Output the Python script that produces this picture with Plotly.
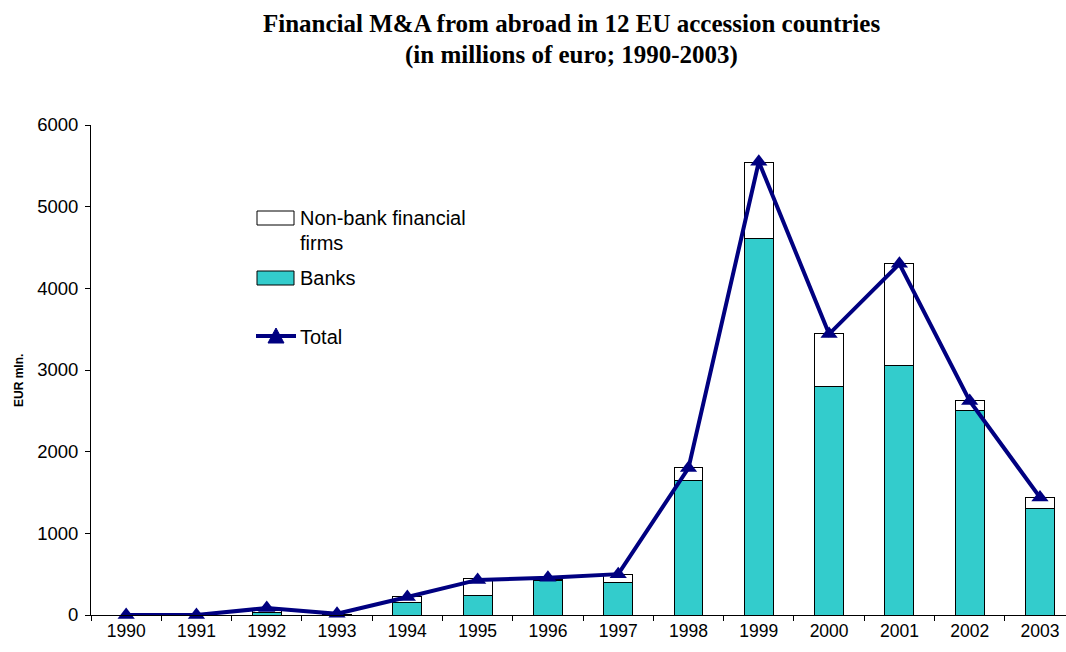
import plotly.graph_objects as go

years = ["1990", "1991", "1992", "1993", "1994", "1995", "1996",
         "1997", "1998", "1999", "2000", "2001", "2002", "2003"]
banks = [0, 0, 30, 5, 155, 237, 420, 400, 1645, 4608, 2804, 3057, 2510, 1310]
non_bank = [0, 0, 20, 5, 70, 204, 20, 98, 159, 939, 637, 1245, 114, 131]
total = [0, 0, 85, 15, 220, 430, 455, 500, 1800, 5550, 3440, 4300, 2620, 1440]

BANK_COLOR = "#33CCCC"
LINE_COLOR = "#000080"

fig = go.Figure()

fig.add_trace(go.Bar(
    x=years, y=banks, name="Banks",
    marker=dict(color=BANK_COLOR, line=dict(color="#000000", width=1)),
))
fig.add_trace(go.Bar(
    x=years, y=non_bank, name="Non-bank financial firms",
    marker=dict(color="#FFFFFF", line=dict(color="#000000", width=1)),
))
fig.add_trace(go.Scatter(
    x=years, y=total, name="Total", mode="lines+markers",
    line=dict(color=LINE_COLOR, width=4),
    marker=dict(symbol="triangle-up", size=15, color=LINE_COLOR),
    cliponaxis=False,
))

# Plot area geometry (pixels) used to place the hand-built legend and labels
LEFT, RIGHT, TOP, BOTTOM = 91, 1066, 125, 615
W, H = float(RIGHT - LEFT), float(BOTTOM - TOP)
def px(x):
    return (x - LEFT) / W
def py(y):
    return (BOTTOM - y) / H

shapes = [
    dict(type="rect", xref="paper", yref="paper",
         x0=px(257), x1=px(294), y0=py(225), y1=py(211),
         fillcolor="#FFFFFF", line=dict(color="#000000", width=1)),
    dict(type="rect", xref="paper", yref="paper",
         x0=px(257), x1=px(294), y0=py(285), y1=py(271),
         fillcolor=BANK_COLOR, line=dict(color="#000000", width=1)),
    dict(type="line", xref="paper", yref="paper",
         x0=px(256), x1=px(296), y0=py(336), y1=py(336),
         line=dict(color=LINE_COLOR, width=4)),
    dict(type="path", xref="paper", yref="paper",
         path=f"M {px(268)},{py(343)} L {px(284)},{py(343)} L {px(276)},{py(328)} Z",
         fillcolor=LINE_COLOR, line=dict(color=LINE_COLOR, width=1)),
]

legend_font = dict(family="Arial, Liberation Sans, sans-serif", size=20, color="#000000")
legend_items = [("Non-bank financial", 218), ("firms", 243), ("Banks", 278), ("Total", 337)]
annotations = [
    dict(text=t, xref="paper", yref="paper", x=px(298), y=py(yc),
         xanchor="left", yanchor="middle", showarrow=False, font=legend_font)
    for t, yc in legend_items
]

title_font = dict(family="Times New Roman, Liberation Serif, serif", size=25, color="#000000")
for line, yc in [("Financial M&A from abroad in 12 EU accession countries", 24),
                 ("(in millions of euro; 1990-2003)", 55)]:
    annotations.append(dict(
        text=f"<b>{line}</b>", xref="paper", yref="paper",
        x=px(571), y=py(yc), xanchor="center", yanchor="middle",
        showarrow=False, font=title_font,
    ))

# Y-axis caption
annotations.append(dict(
    text="<b>EUR mln.</b>", xref="paper", yref="paper",
    x=px(19), y=py(381), xanchor="center", yanchor="middle",
    textangle=-90, showarrow=False,
    font=dict(family="Arial, Liberation Sans, sans-serif", size=12, color="#000000"),
))

fig.update_layout(
    width=1066, height=652,
    barmode="stack", bargap=0.59,
    paper_bgcolor="white", plot_bgcolor="white",
    margin=dict(l=LEFT, r=1066 - RIGHT, t=TOP, b=652 - BOTTOM),
    font=dict(family="Arial, Liberation Sans, sans-serif", size=17, color="#000000"),
    showlegend=False,
    shapes=shapes,
    annotations=annotations,
)

fig.update_xaxes(
    type="category", range=[-0.5, 13.37],
    showline=True, linecolor="#000000", linewidth=1,
    ticks="outside", tickson="boundaries", ticklen=5, tickcolor="#000000",
    showgrid=False, tickfont=dict(size=17.5),
)
fig.update_yaxes(
    range=[0, 6000], tickvals=[0, 1000, 2000, 3000, 4000, 5000, 6000],
    showline=True, linecolor="#000000", linewidth=1,
    ticks="outside", ticklen=5, tickcolor="#000000",
    showgrid=False, zeroline=False, tickfont=dict(size=18.5),
    ticklabelstandoff=3,
)

fig.write_html("out.html")
